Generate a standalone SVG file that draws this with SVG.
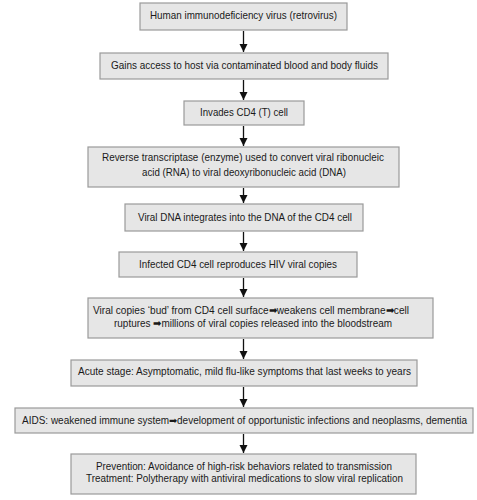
<svg xmlns="http://www.w3.org/2000/svg" width="477" height="500" viewBox="0 0 477 500">
<style>
.box{fill:#e6e6e6;stroke:#9a9a9a;stroke-width:1.2}
.t{font-family:"Liberation Sans",Arial,sans-serif;font-size:11px;fill:#1a1a1a;text-anchor:middle}
.s{font-size:10.2px}
.c{stroke:#111;stroke-width:1.3;fill:none}
</style>
<defs>
<marker id="ah" viewBox="0 0 8 12" refX="8" refY="6" markerWidth="8" markerHeight="12" markerUnits="userSpaceOnUse" orient="auto">
<path d="M0,2 L8,6 L0,10 Z" fill="#111"/>
</marker>
</defs>
<rect width="477" height="500" fill="#fff"/>
<g id="connectors">
<line class="c" x1="243.5" y1="31" x2="243.5" y2="52" marker-end="url(#ah)"/>
<line class="c" x1="243.5" y1="80" x2="243.5" y2="100" marker-end="url(#ah)"/>
<line class="c" x1="243.5" y1="126" x2="243.5" y2="146" marker-end="url(#ah)"/>
<line class="c" x1="243.5" y1="188" x2="243.5" y2="203" marker-end="url(#ah)"/>
<line class="c" x1="243.5" y1="232" x2="243.5" y2="251" marker-end="url(#ah)"/>
<line class="c" x1="243.5" y1="278" x2="243.5" y2="297" marker-end="url(#ah)"/>
<line class="c" x1="243.5" y1="339" x2="243.5" y2="359" marker-end="url(#ah)"/>
<line class="c" x1="243.5" y1="387" x2="243.5" y2="407" marker-end="url(#ah)"/>
<line class="c" x1="243.5" y1="434" x2="243.5" y2="453" marker-end="url(#ah)"/>
</g>
<g id="n1"><rect class="box" x="140" y="3" width="207" height="27"/>
<text class="t" x="243.5" y="19" textLength="187" lengthAdjust="spacingAndGlyphs">Human immunodeficiency virus (retrovirus)</text></g>
<g id="n2"><rect class="box" x="100" y="53" width="288" height="26"/>
<text class="t" x="244.5" y="69" textLength="267" lengthAdjust="spacingAndGlyphs">Gains access to host via contaminated blood and body fluids</text></g>
<g id="n3"><rect class="box" x="184" y="101" width="120" height="24"/>
<text class="t" x="244" y="116" textLength="88" lengthAdjust="spacingAndGlyphs">Invades CD4 (T) cell</text></g>
<g id="n4"><rect class="box" x="88" y="147" width="311" height="40"/>
<text class="t" x="243" y="161" textLength="282" lengthAdjust="spacingAndGlyphs">Reverse transcriptase (enzyme) used to convert viral ribonucleic</text>
<text class="t" x="244" y="176" textLength="204" lengthAdjust="spacingAndGlyphs">acid (RNA) to viral deoxyribonucleic acid (DNA)</text></g>
<g id="n5"><rect class="box" x="125" y="204" width="238" height="27"/>
<text class="t" x="245" y="221" textLength="214" lengthAdjust="spacingAndGlyphs">Viral DNA integrates into the DNA of the CD4 cell</text></g>
<g id="n6"><rect class="box" x="119" y="252" width="238" height="25"/>
<text class="t" x="238" y="268" textLength="198" lengthAdjust="spacingAndGlyphs">Infected CD4 cell reproduces HIV viral copies</text></g>
<g id="n7"><rect class="box" x="88" y="298" width="345" height="40"/>
<text class="t" x="251" y="314" textLength="316" lengthAdjust="spacingAndGlyphs">Viral copies ‘bud’ from CD4 cell surface➡weakens cell membrane➡cell</text>
<text class="t" x="253" y="327" textLength="278" lengthAdjust="spacingAndGlyphs">ruptures ➡millions of viral copies released into the bloodstream</text></g>
<g id="n8"><rect class="box" x="71" y="360" width="346" height="26"/>
<text class="t" x="244.5" y="375" textLength="333" lengthAdjust="spacingAndGlyphs">Acute stage: Asymptomatic, mild flu-like symptoms that last weeks to years</text></g>
<g id="n9"><rect class="box" x="15" y="408" width="458" height="25"/>
<text class="t s" x="244.5" y="424" textLength="445" lengthAdjust="spacingAndGlyphs">AIDS: weakened immune system➡development of opportunistic infections and neoplasms, dementia</text></g>
<g id="n10"><rect class="box" x="71" y="454" width="345" height="40"/>
<text class="t" x="244" y="470" textLength="296" lengthAdjust="spacingAndGlyphs">Prevention: Avoidance of high-risk behaviors related to transmission</text>
<text class="t" x="244.5" y="482" textLength="317" lengthAdjust="spacingAndGlyphs">Treatment: Polytherapy with antiviral medications to slow viral replication</text></g>
</svg>
